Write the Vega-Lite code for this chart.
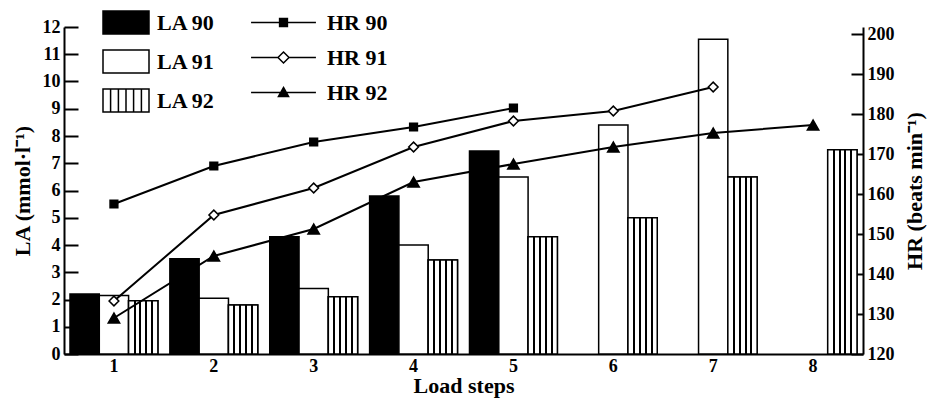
{
  "$schema": "https://vega.github.io/schema/vega-lite/v6.json",
  "width": 799,
  "height": 327,
  "autosize": {"type": "none"},
  "padding": {"left": 64, "top": 27, "right": 70, "bottom": 47},
  "background": "white",
  "config": {
    "view": {"stroke": null},
    "font": "Liberation Serif",
    "axis": {"grid": false, "labelOverlap": false, "domainColor": "black", "domainWidth": 2, "tickColor": "black", "tickWidth": 2, "labelColor": "black", "titleColor": "black", "labelFont": "Liberation Serif", "titleFont": "Liberation Serif", "labelFontWeight": "bold", "titleFontWeight": "bold", "labelFontSize": 18, "titleFontSize": 22},
    "legend": {"title": null, "orient": "none", "padding": 0, "labelFont": "Liberation Serif", "labelFontWeight": "bold", "labelFontSize": 22, "labelColor": "black"}
  },
  "datasets": {
    "la": [
      {"step": 1, "series": "LA 90", "la": 2.2},
      {"step": 2, "series": "LA 90", "la": 3.5},
      {"step": 3, "series": "LA 90", "la": 4.3},
      {"step": 4, "series": "LA 90", "la": 5.8},
      {"step": 5, "series": "LA 90", "la": 7.45},
      {"step": 1, "series": "LA 91", "la": 2.15},
      {"step": 2, "series": "LA 91", "la": 2.05},
      {"step": 3, "series": "LA 91", "la": 2.4},
      {"step": 4, "series": "LA 91", "la": 4.0},
      {"step": 5, "series": "LA 91", "la": 6.5},
      {"step": 6, "series": "LA 91", "la": 8.4},
      {"step": 7, "series": "LA 91", "la": 11.55},
      {"step": 1, "series": "LA 92", "la": 1.95},
      {"step": 2, "series": "LA 92", "la": 1.8},
      {"step": 3, "series": "LA 92", "la": 2.1},
      {"step": 4, "series": "LA 92", "la": 3.45},
      {"step": 5, "series": "LA 92", "la": 4.3},
      {"step": 6, "series": "LA 92", "la": 5.0},
      {"step": 7, "series": "LA 92", "la": 6.5},
      {"step": 8, "series": "LA 92", "la": 7.5}
    ],
    "hr": [
      {"step": 1, "series": "HR 90", "hr": 157.5},
      {"step": 2, "series": "HR 90", "hr": 167},
      {"step": 3, "series": "HR 90", "hr": 173},
      {"step": 4, "series": "HR 90", "hr": 176.75},
      {"step": 5, "series": "HR 90", "hr": 181.5},
      {"step": 1, "series": "HR 91", "hr": 133.25},
      {"step": 2, "series": "HR 91", "hr": 154.75},
      {"step": 3, "series": "HR 91", "hr": 161.5},
      {"step": 4, "series": "HR 91", "hr": 171.75},
      {"step": 5, "series": "HR 91", "hr": 178.25},
      {"step": 6, "series": "HR 91", "hr": 180.75},
      {"step": 7, "series": "HR 91", "hr": 186.75},
      {"step": 1, "series": "HR 92", "hr": 129},
      {"step": 2, "series": "HR 92", "hr": 144.5},
      {"step": 3, "series": "HR 92", "hr": 151.25},
      {"step": 4, "series": "HR 92", "hr": 163},
      {"step": 5, "series": "HR 92", "hr": 167.5},
      {"step": 6, "series": "HR 92", "hr": 171.75},
      {"step": 7, "series": "HR 92", "hr": 175.25},
      {"step": 8, "series": "HR 92", "hr": 177.25}
    ]
  },
  "layer": [
    {
      "data": {"name": "la"},
      "layer": [
        {
          "mark": {"type": "bar", "stroke": "black", "strokeWidth": 1.5},
          "encoding": {
            "x": {
              "field": "step", "type": "ordinal",
              "scale": {"paddingInner": 0.12, "paddingOuter": 0.06},
              "axis": {"title": "Load steps", "labelAngle": 0, "ticks": false, "labelPadding": 3, "titlePadding": 0}
            },
            "xOffset": {"field": "series", "type": "nominal", "scale": {"domain": ["LA 90", "LA 91", "LA 92"], "paddingInner": 0, "paddingOuter": 0}},
            "y": {
              "field": "la", "type": "quantitative",
              "scale": {"domain": [0, 12], "nice": false},
              "axis": {"orient": "left", "title": "LA (mmol·l⁻¹)", "values": [0,1,2,3,4,5,6,7,8,9,10,11,12], "tickCount": 13, "labelOverlap": false, "tickSize": -14, "labelPadding": 18, "titlePadding": 8}
            },
            "fill": {"field": "series", "type": "nominal", "scale": {"domain": ["LA 90", "LA 91", "LA 92"], "range": ["black", "white", "white"]}, "legend": null}
          }
        },
        {
          "transform": [{"filter": "datum.series == 'LA 92'"}],
          "mark": {"type": "bar", "stroke": "black", "strokeWidth": 1.5,
            "fill": {"gradient": "linear", "x1": 0, "x2": 1, "y1": 0, "y2": 0, "stops": [
              {"offset": 0, "color": "white"}, {"offset": 0.17, "color": "white"}, {"offset": 0.17, "color": "black"}, {"offset": 0.24, "color": "black"}, {"offset": 0.24, "color": "white"},
              {"offset": 0.37, "color": "white"}, {"offset": 0.37, "color": "black"}, {"offset": 0.44, "color": "black"}, {"offset": 0.44, "color": "white"},
              {"offset": 0.57, "color": "white"}, {"offset": 0.57, "color": "black"}, {"offset": 0.64, "color": "black"}, {"offset": 0.64, "color": "white"},
              {"offset": 0.77, "color": "white"}, {"offset": 0.77, "color": "black"}, {"offset": 0.84, "color": "black"}, {"offset": 0.84, "color": "white"},
              {"offset": 1, "color": "white"}]}},
          "encoding": {
            "x": {"field": "step", "type": "ordinal"},
            "xOffset": {"field": "series", "type": "nominal"},
            "y": {
              "field": "la", "type": "quantitative",
              "scale": {"domain": [0, 12], "nice": false},
              "axis": {"orient": "left", "title": "LA (mmol·l⁻¹)", "values": [0,1,2,3,4,5,6,7,8,9,10,11,12], "tickCount": 13, "labelOverlap": false, "tickSize": -14, "labelPadding": 18, "titlePadding": 8}
            }
          }
        },
        {
          "data": {"values": []},
          "mark": {"type": "point", "filled": true, "fill": "white", "stroke": "black", "strokeWidth": 1.5, "size": 2116, "opacity": 1},
          "encoding": {
            "shape": {"field": "series", "type": "nominal", "scale": {"domain": ["LA 90", "LA 91", "LA 92"], "range": [
              "M-1,-0.5H1V0.5H-1ZM-1,-0.45H1M-1,-0.4H1M-1,-0.35H1M-1,-0.3H1M-1,-0.25H1M-1,-0.2H1M-1,-0.15H1M-1,-0.1H1M-1,-0.05H1M-1,0H1M-1,0.05H1M-1,0.1H1M-1,0.15H1M-1,0.2H1M-1,0.25H1M-1,0.3H1M-1,0.35H1M-1,0.4H1M-1,0.45H1",
              "M-1,-0.5H1V0.5H-1Z",
              "M-1,-0.5H1V0.5H-1ZM-0.67,-0.5V0.5M-0.33,-0.5V0.5M0,-0.5V0.5M0.33,-0.5V0.5M0.67,-0.5V0.5"
            ]}, "legend": {"legendX": 38, "legendY": -28.5, "symbolSize": 2116, "labelOffset": 7, "rowPadding": -1}}
          }
        }
      ],
      "resolve": {"scale": {"fill": "independent"}}
    },
    {
      "data": {"name": "hr"},
      "layer": [
        {
          "mark": {"type": "line", "color": "black", "strokeWidth": 2},
          "encoding": {
            "x": {"field": "step", "type": "ordinal"},
            "y": {
              "field": "hr", "type": "quantitative",
              "scale": {"domain": [120, 201.75], "nice": false},
              "axis": {"orient": "right", "title": "HR (beats min⁻¹)", "titleAngle": -90, "titleBaseline": "top", "values": [120,130,140,150,160,170,180,190,200], "labelOverlap": false, "tickSize": -12, "labelPadding": 16, "titlePadding": 10}
            },
            "detail": {"field": "series", "type": "nominal"}
          }
        },
        {
          "mark": {"type": "point", "filled": true, "stroke": "black", "strokeWidth": 1.5, "opacity": 1},
          "encoding": {
            "x": {"field": "step", "type": "ordinal"},
            "y": {"field": "hr", "type": "quantitative"},
            "shape": {"field": "series", "type": "nominal", "scale": {"domain": ["HR 90", "HR 91", "HR 92"], "range": ["square", "diamond", "triangle-up"]}, "legend": null},
            "fill": {"field": "series", "type": "nominal", "scale": {"domain": ["HR 90", "HR 91", "HR 92"], "range": ["black", "white", "black"]}, "legend": null},
            "size": {"field": "series", "type": "nominal", "scale": {"domain": ["HR 90", "HR 91", "HR 92"], "range": [60, 130, 110]}, "legend": null}
          }
        },
        {
          "data": {"values": []},
          "mark": {"type": "point", "filled": true, "fill": "white", "stroke": "black", "strokeWidth": 2, "size": 2116, "opacity": 1},
          "encoding": {
            "shape": {"field": "series", "type": "nominal", "scale": {"domain": ["HR 90", "HR 91", "HR 92"], "range": [
              "M-1.41,0H1.41M-0.17,-0.17H0.17V0.17H-0.17ZM-0.17,-0.12H0.17M-0.17,-0.06H0.17M-0.17,0H0.17M-0.17,0.06H0.17M-0.17,0.12H0.17",
              "M-1.41,0H-0.24M0.24,0H1.41M0,-0.24L0.24,0L0,0.24L-0.24,0Z",
              "M-1.41,0H1.41M0,-0.22L0.22,0.17H-0.22ZM-0.034,-0.16H0.034M-0.062,-0.11H0.062M-0.09,-0.06H0.09M-0.118,-0.01H0.118M-0.147,0.04H0.147M-0.175,0.09H0.175M-0.203,0.14H0.203"
            ]}, "legend": {"legendX": 195.5, "legendY": -28.5, "symbolSize": 2116, "labelOffset": 19.5, "rowPadding": -1}}
          }
        }
      ],
      "resolve": {"scale": {"shape": "independent"}, "legend": {"shape": "independent"}}
    }
  ],
  "resolve": {"scale": {"y": "independent", "fill": "independent", "shape": "independent"}, "legend": {"fill": "independent", "shape": "independent"}}
}
